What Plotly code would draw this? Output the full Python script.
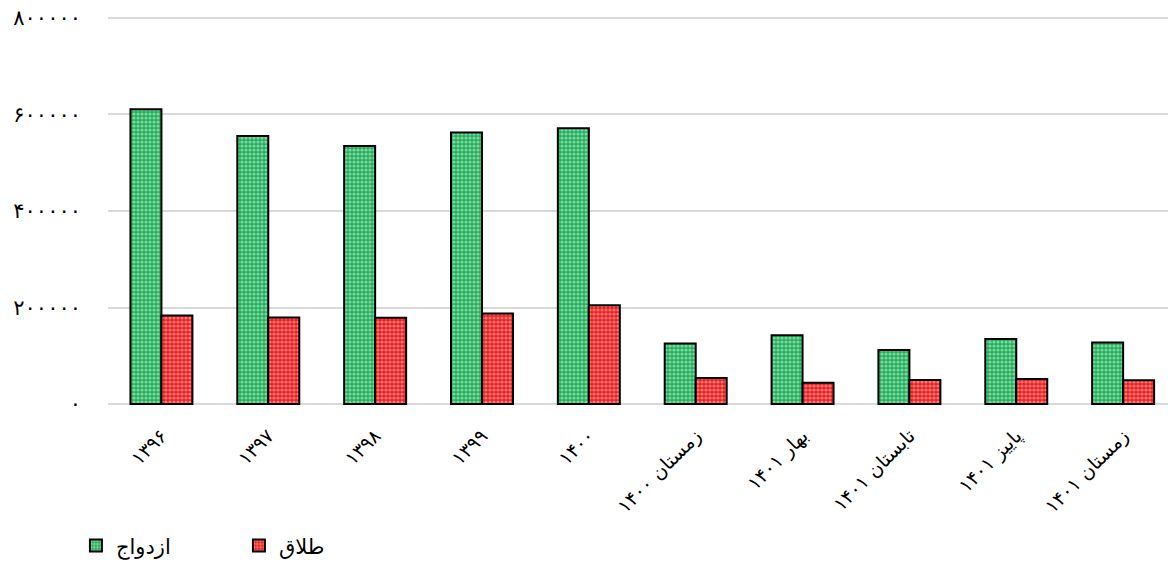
import plotly.graph_objects as go

categories = ["۱۳۹۶", "۱۳۹۷", "۱۳۹۸", "۱۳۹۹", "۱۴۰۰",
              "زمستان ۱۴۰۰", "بهار ۱۴۰۱", "تابستان ۱۴۰۱", "پاییز ۱۴۰۱", "زمستان ۱۴۰۱"]
marriage = [611000, 555400, 534500, 562500, 571400, 125700, 142400, 111800, 134700, 127800]
divorce = [183300, 179100, 179000, 187500, 204800, 54200, 44400, 50000, 52100, 49200]
ytick_vals = [0, 200000, 400000, 600000, 800000]
ytick_text = ["۰", "۲۰۰۰۰۰", "۴۰۰۰۰۰", "۶۰۰۰۰۰", "۸۰۰۰۰۰"]

FONT = "DejaVu Sans"

fig = go.Figure()
fig.add_trace(go.Bar(
    x=categories, y=marriage, name="ازدواج",
    marker=dict(color="#1fb05a", line=dict(color="black", width=2),
                pattern=dict(shape=".", fgcolor="#e3f8ea", size=4, solidity=0.5)),
))
fig.add_trace(go.Bar(
    x=categories, y=divorce, name="طلاق",
    marker=dict(color="#f21a1a", line=dict(color="black", width=2),
                pattern=dict(shape=".", fgcolor="#ffdede", size=4, solidity=0.5)),
))

fig.update_layout(
    width=1168, height=571,
    paper_bgcolor="white", plot_bgcolor="white",
    margin=dict(l=108, r=0, t=16, b=165),
    barmode="group", bargap=0.42, bargroupgap=0,
    font=dict(family=FONT, size=18, color="black"),
    showlegend=True,
    legend=dict(orientation="h", xref="container", yref="container",
                x=0.065, y=0.008, xanchor="left", yanchor="bottom",
                font=dict(family=FONT, size=21),
                entrywidth=118, entrywidthmode="pixels", traceorder="normal"),
    xaxis=dict(range=[-0.5, 9.42], tickangle=-45, showgrid=False, showline=False,
               ticks="", ticklabelstandoff=14, tickfont=dict(family=FONT, size=19)),
    yaxis=dict(range=[-4000, 804000], tickvals=ytick_vals, ticktext=ytick_text,
               showgrid=True, gridcolor="#d9d9d9", gridwidth=1.5,
               zeroline=False, showline=False, ticks="",
               ticklabelstandoff=26, tickfont=dict(family=FONT, size=21)),
)

fig.write_html("out.html", config={"displayModeBar": False},
               post_script="document.body.style.margin='0';")
